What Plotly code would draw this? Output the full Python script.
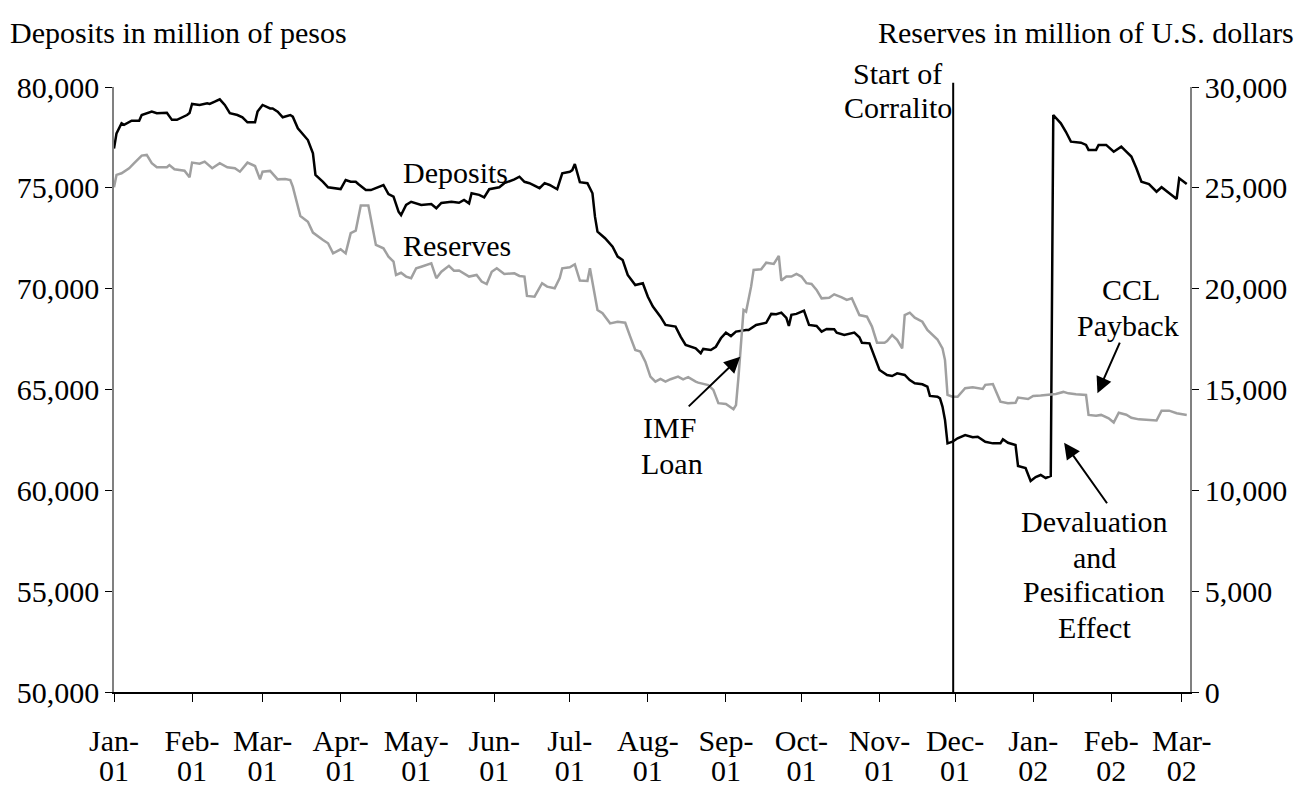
import plotly.graph_objects as go

# ---------------- data ----------------
dep_dates = [
    "2001-01-01","2001-01-02","2001-01-04","2001-01-05","2001-01-08","2001-01-11","2001-01-12","2001-01-16",
    "2001-01-18","2001-01-22","2001-01-24","2001-01-26","2001-01-30","2001-01-31","2001-02-01","2001-02-04",
    "2001-02-07","2001-02-08","2001-02-10","2001-02-12","2001-02-14","2001-02-16","2001-02-19","2001-02-21",
    "2001-02-23","2001-02-26","2001-02-27","2001-03-01","2001-03-04","2001-03-05","2001-03-07","2001-03-09",
    "2001-03-12","2001-03-13","2001-03-15","2001-03-19","2001-03-21","2001-03-22","2001-03-25","2001-03-27",
    "2001-04-01","2001-04-03","2001-04-05","2001-04-07","2001-04-08","2001-04-11","2001-04-13","2001-04-16",
    "2001-04-18","2001-04-20","2001-04-22","2001-04-24","2001-04-25","2001-04-27","2001-04-29","2001-05-03",
    "2001-05-07","2001-05-09","2001-05-11","2001-05-15","2001-05-18","2001-05-20","2001-05-22","2001-05-23",
    "2001-05-26","2001-05-28","2001-05-30","2001-06-03","2001-06-05","2001-06-09","2001-06-11","2001-06-13",
    "2001-06-15","2001-06-19","2001-06-21","2001-06-23","2001-06-26","2001-06-28","2001-07-01","2001-07-02",
    "2001-07-03","2001-07-05","2001-07-08","2001-07-10","2001-07-11","2001-07-12","2001-07-15","2001-07-18",
    "2001-07-20","2001-07-22","2001-07-24","2001-07-27","2001-07-30","2001-08-01","2001-08-03","2001-08-06",
    "2001-08-08","2001-08-12","2001-08-14","2001-08-16","2001-08-20","2001-08-22","2001-08-23","2001-08-26",
    "2001-08-28","2001-08-30","2001-09-01","2001-09-03","2001-09-05","2001-09-09","2001-09-10","2001-09-13",
    "2001-09-17","2001-09-19","2001-09-21","2001-09-23","2001-09-25","2001-09-26","2001-09-27","2001-09-29",
    "2001-10-02","2001-10-04","2001-10-07","2001-10-09","2001-10-11","2001-10-14","2001-10-15","2001-10-18",
    "2001-10-20","2001-10-22","2001-10-24","2001-10-25","2001-10-28","2001-10-30","2001-11-01","2001-11-04",
    "2001-11-06","2001-11-08","2001-11-11","2001-11-13","2001-11-15","2001-11-18","2001-11-20","2001-11-21",
    "2001-11-24","2001-11-25","2001-11-26","2001-11-27","2001-11-28","2001-11-30","2001-12-02","2001-12-05",
    "2001-12-08","2001-12-10","2001-12-13","2001-12-16","2001-12-19","2001-12-20","2001-12-22","2001-12-25",
    "2001-12-26","2001-12-29","2001-12-31","2002-01-02","2002-01-04","2002-01-06","2002-01-08","2002-01-09",
    "2002-01-12","2002-01-14","2002-01-16","2002-01-20","2002-01-22","2002-01-23","2002-01-26","2002-01-27",
    "2002-01-30","2002-02-02","2002-02-05","2002-02-07","2002-02-09","2002-02-11","2002-02-13","2002-02-16",
    "2002-02-19","2002-02-21","2002-02-24","2002-02-27","2002-02-28","2002-03-02","2002-03-03",
]
dep_vals = [
    76950,77700,78200,78120,78330,78330,78610,78780,
    78700,78720,78370,78370,78610,78710,79160,79110,
    79190,79160,79270,79390,79110,78700,78610,78500,
    78250,78250,78780,79110,78940,78940,78780,78500,
    78610,78530,77950,77370,76710,75640,75300,75030,
    74940,75390,75300,75300,75190,74890,74890,75060,
    75140,74690,74560,73820,73650,74150,74310,74150,
    74200,73990,74250,74310,74260,74400,74230,74730,
    74650,74530,74930,75030,75230,75420,75550,75300,
    75230,74980,75230,75140,74930,75720,75800,75880,
    76180,75280,75230,74730,73570,72830,72500,72080,
    71590,71420,70680,70180,70270,69600,69110,68610,
    68200,68120,67620,67210,67040,66800,67010,66960,
    67120,67540,67820,67650,67870,67950,67950,68200,
    68310,68750,68730,68810,68550,68150,68700,68750,
    68910,68200,68150,67870,68000,67990,67820,67700,
    67750,67820,67590,67320,67290,66630,65970,65720,
    65670,65800,65720,65470,65310,65260,65140,64680,
    64640,64560,64150,63490,62330,62410,62580,62740,
    62630,62660,62410,62330,62330,62530,62360,62250,
    61210,61110,60460,60660,60760,60610,60710,78610,
    78200,77780,77290,77240,77130,76880,76880,77130,
    77130,76790,77040,76790,76550,75970,75300,75190,
    74810,75030,74730,74450,75470,75300,75190,
]

res_dates = [
    "2001-01-01","2001-01-02","2001-01-04","2001-01-07","2001-01-09","2001-01-11","2001-01-12","2001-01-14",
    "2001-01-16","2001-01-18","2001-01-22","2001-01-23","2001-01-25","2001-01-29","2001-01-31","2001-02-01",
    "2001-02-04","2001-02-06","2001-02-09","2001-02-12","2001-02-15","2001-02-18","2001-02-20","2001-02-23",
    "2001-02-26","2001-02-28","2001-03-01","2001-03-04","2001-03-07","2001-03-10","2001-03-12","2001-03-13",
    "2001-03-16","2001-03-19","2001-03-21","2001-03-25","2001-03-27","2001-03-29","2001-04-01","2001-04-03",
    "2001-04-05","2001-04-07","2001-04-09","2001-04-12","2001-04-15","2001-04-18","2001-04-20","2001-04-22",
    "2001-04-23","2001-04-25","2001-04-27","2001-04-29","2001-05-01","2001-05-03","2001-05-07","2001-05-09",
    "2001-05-11","2001-05-14","2001-05-16","2001-05-18","2001-05-22","2001-05-25","2001-05-27","2001-05-29",
    "2001-05-31","2001-06-02","2001-06-05","2001-06-09","2001-06-11","2001-06-13","2001-06-14","2001-06-17",
    "2001-06-19","2001-06-20","2001-06-22","2001-06-25","2001-06-27","2001-06-28","2001-07-01","2001-07-03",
    "2001-07-05","2001-07-08","2001-07-09","2001-07-10","2001-07-12","2001-07-14","2001-07-17","2001-07-20",
    "2001-07-23","2001-07-25","2001-07-27","2001-07-29","2001-07-31","2001-08-02","2001-08-04","2001-08-06",
    "2001-08-08","2001-08-10","2001-08-13","2001-08-15","2001-08-17","2001-08-20","2001-08-21","2001-08-25",
    "2001-08-27","2001-08-29","2001-09-01","2001-09-04","2001-09-05","2001-09-06","2001-09-07","2001-09-08",
    "2001-09-09","2001-09-11","2001-09-12","2001-09-15","2001-09-17","2001-09-20","2001-09-22","2001-09-23",
    "2001-09-25","2001-09-27","2001-09-29","2001-10-01","2001-10-03","2001-10-05","2001-10-07","2001-10-09",
    "2001-10-12","2001-10-14","2001-10-17","2001-10-19","2001-10-21","2001-10-24","2001-10-27","2001-10-29",
    "2001-10-31","2001-11-03","2001-11-04","2001-11-06","2001-11-08","2001-11-10","2001-11-11","2001-11-13",
    "2001-11-15","2001-11-18","2001-11-20","2001-11-22","2001-11-24","2001-11-26","2001-11-27","2001-11-28",
    "2001-11-30","2001-12-02","2001-12-04","2001-12-05","2001-12-08","2001-12-12","2001-12-13","2001-12-16",
    "2001-12-19","2001-12-22","2001-12-25","2001-12-26","2001-12-30","2002-01-01","2002-01-04","2002-01-08",
    "2002-01-10","2002-01-13","2002-01-15","2002-01-18","2002-01-22","2002-01-23","2002-01-26","2002-01-28",
    "2002-01-31","2002-02-02","2002-02-04","2002-02-07","2002-02-09","2002-02-12","2002-02-16","2002-02-19",
    "2002-02-21","2002-02-24","2002-02-27","2002-03-02","2002-03-03",
]
res_vals = [
    25030,25640,25720,25970,26220,26470,26600,26630,
    26220,26020,26020,26130,25920,25850,25520,26250,
    26200,26300,25970,26220,26020,25970,25800,26250,
    26080,25420,25800,25840,25420,25440,25390,25060,
    23600,23320,22780,22410,22250,21750,21950,21750,
    22750,22880,24120,24120,22170,22000,21590,21340,
    20680,20790,20600,20520,21010,21090,21260,20520,
    20840,21130,20890,20900,20600,20680,20350,20230,
    20840,21010,20730,20760,20630,20600,19640,19600,
    20100,20270,20100,20020,20520,21010,21060,21210,
    20400,20380,21010,20270,18940,18780,18280,18360,
    18310,17620,16960,16880,16380,15640,15390,15520,
    15390,15510,15640,15500,15610,15390,15340,15220,
    14980,14320,14280,14020,14230,15640,17370,18940,
    18860,20100,20930,20960,21290,21230,21620,20400,
    20600,20600,20730,20600,20270,20230,19940,19520,
    19550,19720,19570,19440,19520,18690,18610,18120,
    17320,17320,17400,17700,17460,17040,18690,18810,
    18560,18360,17950,17700,17480,17040,16460,14730,
    14640,14640,14890,15060,15110,15030,15230,15270,
    14400,14320,14340,14600,14530,14680,14700,14730,
    14780,14880,14810,14760,14730,13740,13700,13740,
    13570,13360,13850,13750,13600,13520,13490,13460,
    13950,13950,13820,13740,13740,
]

tick_dates = ["2001-01-01","2001-02-01","2001-03-01","2001-04-01","2001-05-01","2001-06-01","2001-07-01",
              "2001-08-01","2001-09-01","2001-10-01","2001-11-01","2001-12-01","2002-01-01","2002-02-01",
              "2002-03-01"]
tick_months = ["Jan-","Feb-","Mar-","Apr-","May-","Jun-","Jul-","Aug-","Sep-","Oct-","Nov-","Dec-",
               "Jan-","Feb-","Mar-"]
tick_years = ["01","01","01","01","01","01","01","01","01","01","01","01","02","02","02"]
corralito_date = "2001-11-30T06:00"
x_range = ["2001-01-01", "2002-03-04T07:00"]

FONT = "Liberation Serif, Times New Roman, serif"
FS = 30

fig = go.Figure()
fig.add_trace(go.Scatter(x=dep_dates, y=dep_vals, mode="lines", name="Deposits",
                         line=dict(color="#000000", width=2.5), xaxis="x", yaxis="y"))
fig.add_trace(go.Scatter(x=res_dates, y=res_vals, mode="lines", name="Reserves",
                         line=dict(color="#a0a0a0", width=2.5), xaxis="x2", yaxis="y2"))

fig.add_shape(type="line", xref="x", yref="paper", x0=corralito_date, x1=corralito_date,
              y0=0, y1=1.007, line=dict(color="black", width=2))

ann_font = dict(family=FONT, size=FS, color="black")
labels = [
    ("Deposits", 0.317, 0.8595),
    ("Reserves", 0.319, 0.7388),
    ("IMF", 0.5167, 0.4364),
    ("Loan", 0.5186, 0.3785),
    ("CCL", 0.9452, 0.6645),
    ("Payback", 0.9424, 0.6050),
    ("Devaluation", 0.9108, 0.2810),
    ("and", 0.9108, 0.2231),
    ("Pesification", 0.9108, 0.1653),
    ("Effect", 0.9108, 0.1058),
    ("Start of", 0.7286, 1.0228),
    ("Corralito", 0.7286, 0.9653),
]
for t, x, y in labels:
    fig.add_annotation(xref="paper", yref="paper", showarrow=False, font=ann_font,
                       xanchor="center", yanchor="middle", text=t, x=x, y=y)

arrows = [
    dict(x=0.582, y=0.554, ax=-53, ay=51),
    dict(x=0.914, y=0.494, ax=23, ay=-52),
    dict(x=0.883, y=0.412, ax=44, ay=62),
]
for a in arrows:
    fig.add_annotation(xref="paper", yref="paper", text="", showarrow=True,
                       arrowhead=2, arrowsize=1.6, arrowwidth=2, arrowcolor="black", **a)

fig.add_annotation(xref="paper", yref="paper", x=-0.0985, y=1.0909, xanchor="left", yanchor="middle",
                   text="Deposits in million of pesos", showarrow=False, font=ann_font)
fig.add_annotation(xref="paper", yref="paper", x=1.0985, y=1.0909, xanchor="right", yanchor="middle",
                   text="Reserves in million of U.S. dollars", showarrow=False, font=ann_font)

common_x = dict(type="date", range=x_range, tickmode="array", tickvals=tick_dates,
                showgrid=False, zeroline=False, automargin=False,
                tickfont=dict(family=FONT, size=FS, color="black"))

fig.update_layout(
    width=1303, height=790,
    margin=dict(l=114, r=113, t=87, b=98),
    paper_bgcolor="white", plot_bgcolor="white",
    showlegend=False,
    font=dict(family=FONT, size=FS, color="black"),
    xaxis=dict(**common_x, ticktext=tick_months,
               ticks="outside", ticklen=8, tickwidth=1, tickcolor="black",
               showline=True, linecolor="black", linewidth=1.5,
               ticklabelstandoff=13),
    xaxis2=dict(**common_x, ticktext=tick_years, overlaying="x", side="bottom",
                ticks="outside", ticklen=8, tickcolor="rgba(0,0,0,0)",
                showline=False, ticklabelstandoff=44),
    yaxis=dict(range=[50000, 80000], dtick=5000, tickformat=",",
               ticks="outside", ticklen=7, tickcolor="black",
               showline=True, linecolor="#808080", linewidth=1.5, automargin=False,
               showgrid=False, zeroline=False, tickfont=dict(family=FONT, size=FS)),
    yaxis2=dict(range=[0, 30000], dtick=5000, tickformat=",", overlaying="y", side="right",
                ticks="outside", ticklen=7, tickcolor="black", automargin=False,
                showline=True, linecolor="#808080", linewidth=1.5,
                showgrid=False, zeroline=False, tickfont=dict(family=FONT, size=FS)),
)

fig.write_html("out.html", config={"displayModeBar": False},
               post_script="document.body.style.margin='0px';")
